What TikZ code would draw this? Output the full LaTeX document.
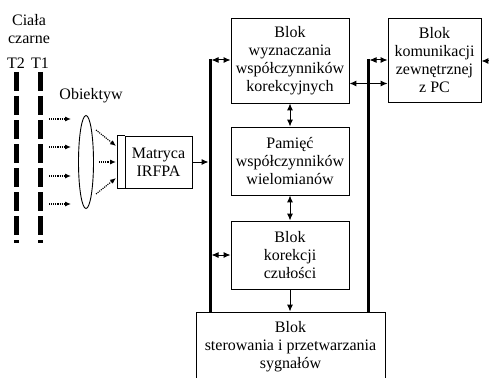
\documentclass[tikz,border=0pt]{standalone}
\usepackage{fontspec}
\setmainfont{Liberation Serif}
\usetikzlibrary{arrows.meta,shapes.geometric,positioning}
\tikzset{
  blok/.style={draw,line width=0.9pt,align=center,inner sep=0pt,font=\fontsize{16}{18}\selectfont},
  napis/.style={align=center,inner sep=0pt,font=\fontsize{16}{18}\selectfont},
  szyna/.style={line width=3pt},
  strz/.style={-{Latex[length=7pt,width=6pt]},line width=1pt},
  dwustrz/.style={{Latex[length=7pt,width=6pt]}-{Latex[length=7pt,width=6pt]},line width=1pt},
  kropki/.style={densely dotted,-{Latex[length=6pt,width=5pt]},line width=1.1pt},
  cialo/.style={line width=5pt,dash pattern=on 19pt off 5pt},
}
\begin{document}
\begin{tikzpicture}[x=1pt,y=-1pt]
  \useasboundingbox (0,0) rectangle (489,377);
  % ciala czarne
  \node[napis] (cialo) at (29,29) {Ciała\\czarne};
  \node[napis] (t2) at (16,63) {T2};
  \node[napis] (t1) at (40,63) {T1};
  \draw[cialo] (16,72) -- (16,243);
  \draw[cialo] (40,72) -- (40,243);
  % obiektyw
  \node[napis] (opis) at (91,96) {Obiektyw};
  \node[ellipse,draw,line width=0.9pt,minimum width=15,minimum height=93,inner sep=0pt] (soczewka) at (86,162) {};
  \foreach \y in {119,147,176,204}
    \draw[kropki] (49,\y) -- (71,\y);
  % matryca
  \node[blok,minimum width=67,minimum height=52] (matryca) at (158.5,162) {Matryca\\IRFPA};
  \draw[line width=0.9pt] (matryca.north west) -- ++(-7,0) |- (matryca.south west);
  \draw[kropki] (96,130) -- (116,146);
  \draw[kropki] (99,162) -- (116,162);
  \draw[kropki] (96,194) -- (116,178);
  % bloki
  \node[blok,minimum width=118,minimum height=85] (wyznaczanie) at (290,60.5) {Blok\\wyznaczania\\współczynników\\korekcyjnych};
  \node[blok,minimum width=118,minimum height=68] (pamiec) at (290,161) {Pamięć\\współczynników\\wielomianów};
  \node[blok,minimum width=118,minimum height=68] (korekcja) at (290,255) {Blok\\korekcji\\czułości};
  \node[blok,minimum width=189,minimum height=70] (sterowanie) at (290.5,347) {Blok\\sterowania i przetwarzania\\sygnałów};
  \node[blok,minimum width=93,minimum height=84] (komunikacja) at (434.5,60) {Blok\\komunikacji\\zewnętrznej\\z PC};
  % szyny
  \coordinate (lgora) at (210,59);
  \coordinate (ldol) at (210,312);
  \coordinate (pgora) at (368,59);
  \coordinate (pdol) at (368,312);
  \draw[szyna] (lgora) -- (ldol);
  \draw[szyna] (pgora) -- (pdol);
  % polaczenia
  \coordinate (lbus1) at (211.5,60);
  \coordinate (lbus2) at (211.5,255);
  \coordinate (lbus3) at (208.5,162);
  \coordinate (pbus1) at (369.5,60);
  \coordinate (zewn) at (489,61);
  \draw[strz] (matryca.east) -- (lbus3);
  \draw[dwustrz] (lbus1) -- (wyznaczanie.west |- lbus1);
  \draw[dwustrz] (lbus2) -- (korekcja.west);
  \draw[dwustrz] (wyznaczanie.south) -- (pamiec.north);
  \draw[dwustrz] (pamiec.south) -- (korekcja.north);
  \draw[strz] (korekcja.south) -- (sterowanie.north -| korekcja.south);
  \draw[dwustrz] ([yshift=-23pt]wyznaczanie.east) -- ([yshift=-23pt]wyznaczanie.east -| komunikacja.west);
  \draw[dwustrz] (pbus1) -- (komunikacja.west |- pbus1);
  \draw[strz] (zewn) -- (komunikacja.east |- zewn);
\end{tikzpicture}
\end{document}
